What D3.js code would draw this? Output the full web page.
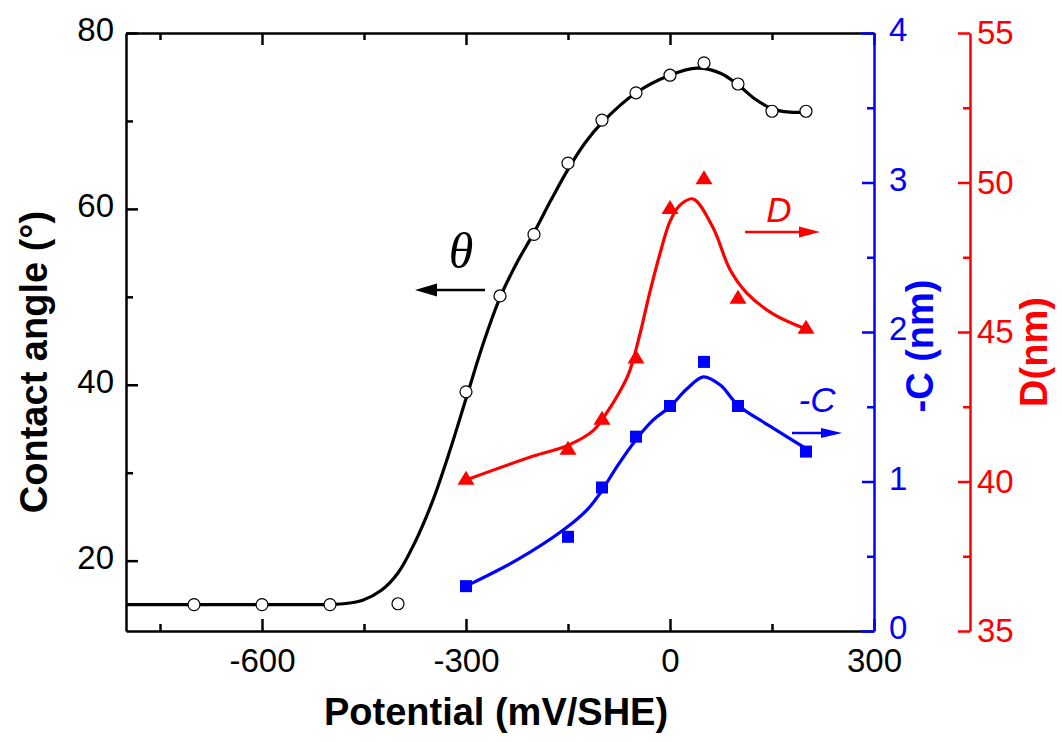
<!DOCTYPE html>
<html><head><meta charset="utf-8">
<script src="https://cdn.jsdelivr.net/npm/d3@7"></script>
<style>body{margin:0;background:#fff}svg{display:block}</style>
</head><body>
<script>
// ---- data ----
const thetaPotential = [-700,-600,-500,-400,-300,-250,-200,-150,-100,-50,0,50,100,150,200];
const thetaValues    = [15,15,15,15.1,39.2,50.1,57.1,65.2,70.1,73.2,75.2,76.6,74.2,71.1,71.1];
const thetaFitPotential = [-800,-600,-520,-480,-452,-425,-400,-375,-350,-325,-300,-275,-250,-225,-200,-175,-150,-125,-100,-50,0,40,75,100,125,150,176,200];
const thetaFitValues    = [15,15,15,15.1,15.5,16.6,18.6,22.1,26.6,32.2,38.4,44.6,49.9,53.9,57.3,61.0,64.5,67.5,69.8,73.2,75.2,76.0,75.4,74.1,72.5,71.4,71.0,71.0];

const dPotential = [-300,-150,-100,-50,0,50,100,200];
const dValues    = [40.05,41.05,42.05,44.1,49.1,50.1,46.1,45.1];
const dFitPotential = [-300,-201,-151,-113,-93,-74,-60,-44,-30,-15,0,15,34,63,88,113,152,200];
const dFitValues    = [40.05,40.85,41.2,41.7,42.3,43.0,43.65,44.95,46.3,47.6,48.7,49.25,49.45,48.5,47.1,46.3,45.6,45.1];

const cPotential = [-300,-150,-100,-50,0,50,100,200];
const cValues    = [0.30,0.63,0.96,1.30,1.505,1.80,1.505,1.20];
const cFitPotential = [-300,-225,-157,-122,-103,-78,-50,-25,0,25,49,74,100,147,200];
const cFitValues    = [0.30,0.475,0.675,0.81,0.92,1.10,1.28,1.41,1.50,1.62,1.70,1.645,1.51,1.37,1.22];

const xMajorTicks = [-600,-300,0,300];
const xMinorTicks = [-750,-450,-150,150];
const thetaMajorTicks = [20,40,60,80];
const thetaMinorTicks = [30,50,70];
const cMajorTicks = [0,1,2,3,4];
const cMinorTicks = [0.5,1.5,2.5,3.5];
const dMajorTicks = [35,40,45,50,55];
const dMinorTicks = [37.5,42.5,47.5,52.5];

// ---- layout ----
const W = 1062, H = 742;
const L = 126, R = 874, T = 33, B = 631;
const redAxisX = 970;
const BLUE = "#0000ff", RED = "#ff0000";
const FONT = "'Liberation Sans', Arial, Helvetica, sans-serif";
const fmt = d => String(d);

const svg = d3.select("body").append("svg").attr("width", W).attr("height", H)
  .style("font-family", FONT);

const x = d3.scaleLinear().domain([-800, 300]).range([L, R]);
const yT = d3.scaleLinear().domain([12, 80]).range([B, T]);
const yC = d3.scaleLinear().domain([0, 4]).range([B, T]);
const yD = d3.scaleLinear().domain([35, 55]).range([B, T]);

function styleAxis(g, color, fs) {
  g.selectAll("path.domain").attr("stroke", color).attr("stroke-width", 2.5);
  g.selectAll(".tick line").attr("stroke", color).attr("stroke-width", 2.5);
  g.selectAll(".tick text").attr("fill", color).style("font-size", fs + "px").style("font-family", FONT);
}

// bottom axis
const gxb = svg.append("g").attr("transform", `translate(0,${B})`)
  .call(d3.axisBottom(x).tickValues(xMajorTicks).tickSizeInner(-12).tickSizeOuter(0).tickPadding(18).tickFormat(fmt));
styleAxis(gxb, "#000", 33);
const gxbm = svg.append("g").attr("transform", `translate(0,${B})`)
  .call(d3.axisBottom(x).tickValues(xMinorTicks).tickSizeInner(-7).tickSizeOuter(0).tickFormat(""));
styleAxis(gxbm, "#000", 33); gxbm.select("path.domain").remove();

// top axis
const gxt = svg.append("g").attr("transform", `translate(0,${T})`)
  .call(d3.axisTop(x).tickValues(xMajorTicks).tickSizeInner(-12).tickSizeOuter(0).tickFormat(""));
styleAxis(gxt, "#000", 33);
const gxtm = svg.append("g").attr("transform", `translate(0,${T})`)
  .call(d3.axisTop(x).tickValues(xMinorTicks).tickSizeInner(-7).tickSizeOuter(0).tickFormat(""));
styleAxis(gxtm, "#000", 33); gxtm.select("path.domain").remove();

// left axis
const gyl = svg.append("g").attr("transform", `translate(${L},0)`)
  .call(d3.axisLeft(yT).tickValues(thetaMajorTicks).tickSizeInner(-12).tickSizeOuter(0).tickPadding(12).tickFormat(fmt));
styleAxis(gyl, "#000", 33);
gyl.selectAll(".tick text").attr("y", -3);
const gylm = svg.append("g").attr("transform", `translate(${L},0)`)
  .call(d3.axisLeft(yT).tickValues(thetaMinorTicks).tickSizeInner(-7).tickSizeOuter(0).tickFormat(""));
styleAxis(gylm, "#000", 33); gylm.select("path.domain").remove();

// blue right axis
const gyc = svg.append("g").attr("transform", `translate(${R},0)`)
  .call(d3.axisRight(yC).tickValues(cMajorTicks).tickSizeInner(-12).tickSizeOuter(0).tickPadding(15).tickFormat(fmt));
styleAxis(gyc, BLUE, 33);
gyc.selectAll(".tick text").attr("y", -3);
const gycm = svg.append("g").attr("transform", `translate(${R},0)`)
  .call(d3.axisRight(yC).tickValues(cMinorTicks).tickSizeInner(-7).tickSizeOuter(0).tickFormat(""));
styleAxis(gycm, BLUE, 33); gycm.select("path.domain").remove();

// red axis
const gyd = svg.append("g").attr("transform", `translate(${redAxisX},0)`)
  .call(d3.axisRight(yD).tickValues(dMajorTicks).tickSizeInner(-12).tickSizeOuter(0).tickPadding(7).tickFormat(fmt));
styleAxis(gyd, RED, 33);
const gydm = svg.append("g").attr("transform", `translate(${redAxisX},0)`)
  .call(d3.axisRight(yD).tickValues(dMinorTicks).tickSizeInner(-7).tickSizeOuter(0).tickFormat(""));
styleAxis(gydm, RED, 33); gydm.select("path.domain").remove();

// axis titles
svg.append("text").attr("x", (L + R) / 2 - 4).attr("y", 725).attr("text-anchor", "middle")
  .style("font-size", "38px").style("font-weight", "bold").text("Potential (mV/SHE)");
svg.append("text").attr("transform", "translate(47,362) rotate(-90)").attr("text-anchor", "middle")
  .style("font-size", "38px").style("font-weight", "bold").text("Contact angle (°)");
svg.append("text").attr("transform", "translate(933,346) rotate(-90)").attr("text-anchor", "middle")
  .attr("fill", BLUE).style("font-size", "38px").style("font-weight", "bold").text("-C (nm)");
svg.append("text").attr("transform", "translate(1047,352) rotate(-90)").attr("text-anchor", "middle")
  .attr("fill", RED).style("font-size", "38px").style("font-weight", "bold").text("D(nm)");

// fit curves
const crv = d3.curveCatmullRom.alpha(0.5);
const lineT = d3.line().x(d => x(d[0])).y(d => yT(d[1])).curve(crv);
const lineC = d3.line().x(d => x(d[0])).y(d => yC(d[1])).curve(crv);
const lineD = d3.line().x(d => x(d[0])).y(d => yD(d[1])).curve(crv);

svg.append("path").datum(d3.zip(thetaFitPotential, thetaFitValues)).attr("d", lineT)
  .attr("fill", "none").attr("stroke", "#000").attr("stroke-width", 3.2);
svg.append("path").datum(d3.zip(dFitPotential, dFitValues)).attr("d", lineD)
  .attr("fill", "none").attr("stroke", RED).attr("stroke-width", 3.2);
svg.append("path").datum(d3.zip(cFitPotential, cFitValues)).attr("d", lineC)
  .attr("fill", "none").attr("stroke", BLUE).attr("stroke-width", 3.2);

// markers
svg.append("g").selectAll("circle").data(d3.zip(thetaPotential, thetaValues)).join("circle")
  .attr("cx", d => x(d[0])).attr("cy", d => yT(d[1])).attr("r", 6)
  .attr("fill", "#fff").attr("stroke", "#000").attr("stroke-width", 1.2);

const tw = 8.5, th = 14;
svg.append("g").selectAll("path").data(d3.zip(dPotential, dValues)).join("path")
  .attr("d", d => { const cx = x(d[0]), cy = yD(d[1]);
    return `M${cx},${cy - th * 2 / 3}L${cx + tw},${cy + th / 3}L${cx - tw},${cy + th / 3}Z`; })
  .attr("fill", RED);

svg.append("g").selectAll("rect").data(d3.zip(cPotential, cValues)).join("rect")
  .attr("x", d => x(d[0]) - 6).attr("y", d => yC(d[1]) - 6).attr("width", 12).attr("height", 12)
  .attr("fill", BLUE);

// annotations
function arrow(x1, x2, yy, color, headLen, headHalf) {
  const dir = Math.sign(x2 - x1);
  svg.append("line").attr("x1", x1).attr("x2", x2 - dir * headLen + dir).attr("y1", yy).attr("y2", yy)
    .attr("stroke", color).attr("stroke-width", 2.5);
  svg.append("path").attr("d", `M${x2},${yy}L${x2 - dir * headLen},${yy - headHalf}L${x2 - dir * headLen},${yy + headHalf}Z`)
    .attr("fill", color);
}
svg.append("text").attr("x", 461).attr("y", 268).attr("text-anchor", "middle")
  .style("font-family", "'Liberation Serif', 'Times New Roman', serif").style("font-style", "italic")
  .style("font-size", "50px").text("θ");
arrow(485, 415, 290, "#000", 22, 6.5);

svg.append("text").attr("x", 779).attr("y", 222).attr("text-anchor", "middle")
  .attr("fill", RED).style("font-style", "italic").style("font-size", "35px").text("D");
arrow(745, 820, 232, RED, 21, 5.5);

svg.append("text").attr("x", 817).attr("y", 412).attr("text-anchor", "middle")
  .attr("fill", BLUE).style("font-style", "italic").style("font-size", "35px").text("-C");
arrow(792, 842, 433, BLUE, 21, 5);
</script>
</body></html>
